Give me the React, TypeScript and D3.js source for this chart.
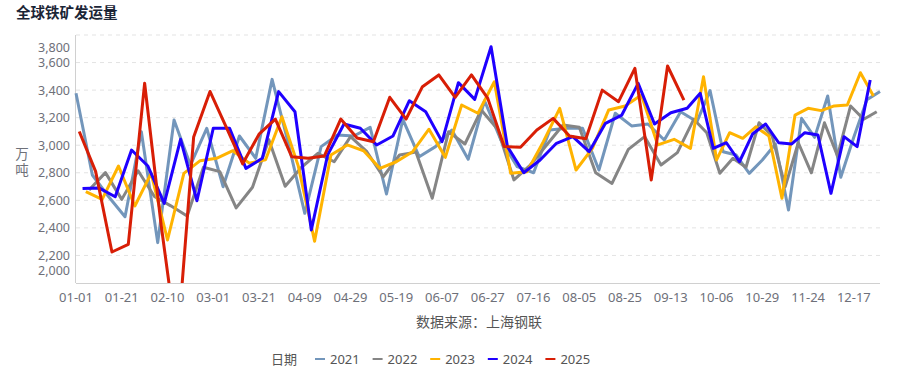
import * as d3 from "d3";

// weekly shipment values (万吨), one array per year, Friday dates
const years = [2021, 2022, 2023, 2024, 2025];

const v2021 = [
  3377, 2784, 2626, 2481, 3098, 2293, 3183, 2856, 3123, 2699, 3067, 2905, 3478, 3010,
  2506, 2990, 3074, 3067, 3130, 2646, 3188, 2917, 2990, 3110, 2898, 3323, 3038, 2844,
  2800, 3110, 3123, 3123, 2820, 3232, 3140, 3154, 3038, 3243, 3171, 3396, 2953, 2929,
  2796, 2893, 3009, 2530, 3195, 3057, 3357, 2767, 3060, 3330, 3390,
];
const v2022 = [
  2675, 2801, 2607, 2815, 2628, 2560, 2486, 2840, 2808, 2545, 2695, 3040, 2702, 2840,
  2941, 2880, 3062, 2953, 2771, 2929, 2950, 2615, 3098, 3009, 3256, 3116, 2748, 2856,
  3002, 3147, 3130, 2800, 2723, 2970, 3062, 2856, 2946, 3188, 3091, 2796, 2905, 2840,
  3163, 3067, 2699, 3018, 2800, 3163, 2922, 3285, 3188, 3243,
];
const v2023 = [
  2663, 2607, 2849, 2559, 2796, 2312, 2796, 2888, 2905, 2960, 2870, 2895, 3207, 2850,
  2303, 2929, 3002, 2960, 2832, 2880, 2953, 3116, 2912, 3292, 3232, 3461, 2796, 2808,
  3026, 3268, 2820, 2977, 3256, 3285, 3365, 3002, 3043, 2977, 3497, 2893, 3091, 3050,
  3134, 3067, 2615, 3219, 3268, 3251, 3285, 3292, 3526, 3357,
];
const v2024 = [
  2685, 2690, 2626, 2965, 2849, 2578, 3043, 2597, 3123, 3123, 2832, 2905, 3389, 3243,
  2385, 2930, 3154, 3123, 3002, 3067, 3323, 3243, 3026, 3454, 3333, 3715, 2990, 2800,
  2893, 3014, 3062, 2953, 3159, 3219, 3449, 3154, 3236, 3268, 3377, 2977, 3018, 2880,
  3081, 3154, 3018, 3009, 3091, 3074, 2651, 3062, 2990, 3473,
];
const v2025 = [
  3100, 2810, 2225, 2280, 3450, 2430, 1550, 3060, 3390, 3130, 2865, 3080, 3190, 2917,
  2905, 2922, 3190, 3052, 3025, 3348, 3190, 3425, 3510, 3348, 3510, 3340, 2990, 2985,
  3110, 3195, 3067, 3047, 3400, 3316, 3558, 2748, 3575, 3328,
];

const seriesValues = [v2021, v2022, v2023, v2024, v2025];
const colors = ["#7396bb", "#858585", "#ffb300", "#1f00ff", "#d81e06"];

const yTicks = [2000, 2200, 2400, 2600, 2800, 3000, 3200, 3400, 3600, 3800];

const fmtMD = d3.timeFormat("%m-%d");

// dates for each year's points
const seriesDates = years.map((yr, i) => {
  const first = d3.timeFriday.ceil(new Date(yr, 0, 1));
  return d3.timeFriday.range(first, new Date(yr + 1, 0, 1)).slice(0, seriesValues[i].length).map(fmtMD);
});

const categories = Array.from(new Set(seriesDates.flat())).sort();

export default function App() {
  const width = 903;
  const height = 373;
  const plot = { left: 76, right: 880, top: 35, bottom: 283 };

  const x = d3.scalePoint<string>().domain(categories).range([plot.left, plot.right]);
  const y = d3.scaleLinear().domain([2000, 3800]).range([plot.bottom, plot.top]);

  const line = d3
    .line<{ c: string; v: number }>()
    .x((d) => x(d.c) ?? 0)
    .y((d) => y(d.v));

  const font = "'Noto Sans', 'Noto Sans CJK SC', sans-serif";
  const labelColor = "#6e7079";

  return (
    <svg width={width} height={height} style={{ display: "block", fontFamily: font }}>
      <style>{`body { margin: 0; }`}</style>
      <defs>
        <clipPath id="plot-clip">
          <rect x={plot.left - 2} y={plot.top - 10} width={plot.right - plot.left + 4} height={plot.bottom - plot.top + 10} />
        </clipPath>
      </defs>

      <text x={16} y={18} fontSize={14.5} fontWeight={700} fill="#1b2536">
        全球铁矿发运量
      </text>

      {/* grid */}
      {yTicks
        .filter((t) => t !== 2000)
        .map((t) => (
          <line key={t} x1={plot.left} x2={plot.right} y1={y(t)} y2={y(t)} stroke="#e3e3e3" strokeDasharray="4 4" />
        ))}

      {/* y labels, end labels pulled inward */}
      {yTicks.map((t) => {
        let ty = y(t);
        if (t === 3800) ty += 12;
        if (t === 2000) ty -= 13;
        return (
          <text key={t} x={70} y={ty} textAnchor="end" dominantBaseline="central" fontSize={12.5} fill={labelColor}>
            {d3.format(",")(t)}
          </text>
        );
      })}

      <text x={22} y={154} textAnchor="middle" dominantBaseline="central" fontSize={13.5} fill={labelColor}>
        万
      </text>
      <text x={22} y={170} textAnchor="middle" dominantBaseline="central" fontSize={13.5} fill={labelColor}>
        吨
      </text>

      <line x1={plot.left - 0.5} x2={plot.left - 0.5} y1={plot.top} y2={plot.bottom} stroke="#d0d0d0" />
      <line x1={plot.left} x2={plot.right} y1={plot.bottom + 0.5} y2={plot.bottom + 0.5} stroke="#d0d0d0" />

      {categories.map((c, i) =>
        i % 14 === 0 ? (
          <text key={c} x={x(c)} y={297} textAnchor="middle" dominantBaseline="central" fontSize={13} fill={labelColor}>
            {c}
          </text>
        ) : null
      )}

      <text x={479} y={321} textAnchor="middle" dominantBaseline="central" fontSize={14} fill="#555">
        数据来源：上海钢联
      </text>

      <g clipPath="url(#plot-clip)">
        {seriesValues.map((vals, i) => (
          <path
            key={years[i]}
            d={line(vals.map((v, j) => ({ c: seriesDates[i][j], v }))) ?? ""}
            fill="none"
            stroke={colors[i]}
            strokeWidth={3}
            strokeLinejoin="round"
          />
        ))}
      </g>

      {/* legend */}
      <text x={271} y={359} dominantBaseline="central" fontSize={13} fill="#555">
        日期
      </text>
      {years.map((yr, i) => {
        const lx = 315 + i * 57.6;
        return (
          <g key={yr}>
            <line x1={lx} x2={lx + 10} y1={359} y2={359} stroke={colors[i]} strokeWidth={2} />
            <text x={lx + 15} y={359} dominantBaseline="central" fontSize={13} fill="#555">
              {yr}
            </text>
          </g>
        );
      })}
    </svg>
  );
}
